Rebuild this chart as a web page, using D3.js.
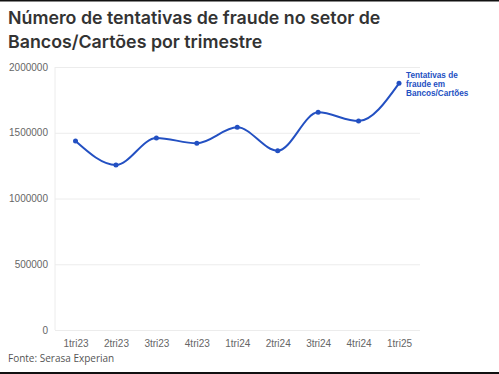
<!DOCTYPE html>
<html>
<head>
<meta charset="utf-8">
<script src="https://cdn.jsdelivr.net/npm/d3@7"></script>
<style>
  html, body { margin: 0; padding: 0; background: #fff; }
  body { width: 499px; height: 374px; overflow: hidden; }
</style>
</head>
<body>
<div class="container"></div>
<script>
const WIDTH = 499;
const HEIGHT = 374;

const TITLE_LINES = ["Número de tentativas de fraude no setor de", "Bancos/Cartões por trimestre"];
const SOURCE = "Fonte: Serasa Experian";
const SERIES_LABEL = ["Tentativas de", "fraude em", "Bancos/Cartões"];

const QUARTERS = ["1tri23", "2tri23", "3tri23", "4tri23", "1tri24", "2tri24", "3tri24", "4tri24", "1tri25"];
const ATTEMPTS = [1437000, 1255000, 1460000, 1420000, 1541000, 1363000, 1655000, 1589000, 1876000];
const Y_TICKS = [0, 500000, 1000000, 1500000, 2000000];

const PLOT_LEFT = 55;
const PLOT_RIGHT = 420;
const PLOT_TOP = 67;
const PLOT_BOTTOM = 330;
const LINE_COLOR = "#2350c2";

var translate = function(x, y){
    return "translate(" + x + "," + y + ")";
};

var xScale = d3.scalePoint()
    .domain(QUARTERS)
    .range([75.5, 399])

var yScale = d3.scaleLinear()
    .domain([0, 2000000])
    .range([PLOT_BOTTOM, PLOT_TOP]);

var svg = d3.select('.container').append('svg')
    .attr('width', WIDTH)
    .attr('height', HEIGHT)
    .style('font-family', '"Open Sans", sans-serif');

// frame lines top and bottom
svg.append('rect').attr('x', 0).attr('y', 0).attr('width', WIDTH).attr('height', 1.5).attr('fill', '#111');
svg.append('rect').attr('x', 0).attr('y', HEIGHT - 2).attr('width', WIDTH).attr('height', 2).attr('fill', '#111');

// title
svg.append('g').selectAll('text')
    .data(TITLE_LINES)
    .enter()
    .append('text')
    .attr('x', 8)
    .attr('y', function(d, i){ return 24 + i * 24; })
    .attr('fill', '#333')
    .style('font-family', 'Inter, sans-serif')
    .style('font-size', '17.8px')
    .style('font-weight', 600)
    .text(function(d){ return d; });

// y grid + labels
var yAxis = d3.axisLeft(yScale)
    .tickValues(Y_TICKS)
    .tickSize(-(PLOT_RIGHT - PLOT_LEFT))
    .tickPadding(7)
    .tickFormat(d3.format('d'));

var gy = svg.append('g')
    .attr('transform', translate(PLOT_LEFT, 0))
    .call(yAxis);
gy.select('.domain').remove();
gy.selectAll('.tick line').attr('stroke', '#ececec');
gy.selectAll('.tick text')
    .attr('fill', '#666')
    .style('font-size', '10px');

// left axis line
svg.append('line')
    .attr('x1', PLOT_LEFT).attr('x2', PLOT_LEFT)
    .attr('y1', PLOT_TOP).attr('y2', PLOT_BOTTOM)
    .attr('stroke', '#ececec');

// x labels
var xAxis = d3.axisBottom(xScale).tickSize(0).tickPadding(10);
var gx = svg.append('g')
    .attr('transform', translate(0, PLOT_BOTTOM))
    .call(xAxis);
gx.select('.domain').remove();
gx.selectAll('.tick text')
    .attr('fill', '#666')
    .style('font-size', '10px');

// line
var line = d3.line()
    .x(function(d, i){ return xScale(QUARTERS[i]); })
    .y(function(d){ return yScale(d); })
    .curve(d3.curveMonotoneX);

svg.append('path')
    .datum(ATTEMPTS)
    .attr('d', line)
    .attr('fill', 'none')
    .attr('stroke', LINE_COLOR)
    .attr('stroke-width', 2);

svg.append('g').selectAll('circle')
    .data(ATTEMPTS)
    .enter()
    .append('circle')
    .attr('r', 2.5)
    .attr('cx', function(d, i){ return xScale(QUARTERS[i]); })
    .attr('cy', function(d){ return yScale(d); })
    .attr('fill', LINE_COLOR);

// series label next to last point
var last = ATTEMPTS.length - 1;
svg.append('g').selectAll('text')
    .data(SERIES_LABEL)
    .enter()
    .append('text')
    .attr('x', xScale(QUARTERS[last]) + 7)
    .attr('y', function(d, i){ return yScale(ATTEMPTS[last]) - 5 + i * 9; })
    .attr('fill', LINE_COLOR)
    .style('font-family', '"Liberation Sans", Arial, sans-serif')
    .style('font-size', '8.2px')
    .style('font-weight', 700)
    .text(function(d){ return d; });

// source
svg.append('text')
    .attr('x', 8)
    .attr('y', 362)
    .attr('fill', '#555')
    .style('font-size', '10px')
    .text(SOURCE);
</script>
</body>
</html>
